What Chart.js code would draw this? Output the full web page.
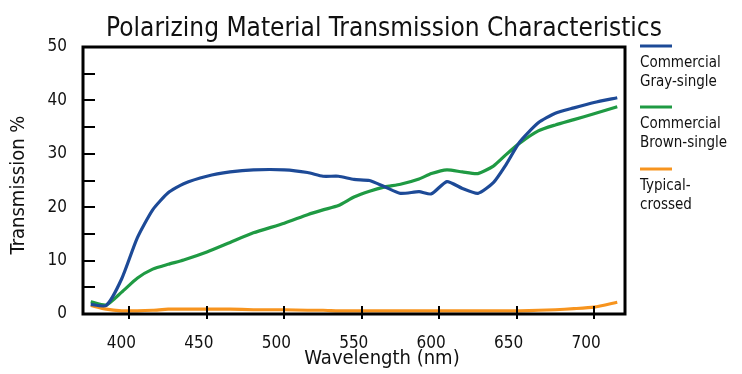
<!DOCTYPE html>
<html>
<head>
<meta charset="utf-8">
<script src="https://cdn.jsdelivr.net/npm/chart.js@4/dist/chart.umd.min.js"></script>
<style>
  html, body { margin: 0; padding: 0; background: #fff; }
  #wrap { width: 742px; height: 374px; }
</style>
</head>
<body>
<div id="wrap"><canvas id="chart"></canvas></div>
<script>
// data
const wavelengths = [375, 385, 395, 405, 415, 425, 435, 450, 465, 480, 500, 515, 525, 535, 545, 555, 565, 575, 587, 595, 605, 615, 625, 635, 643, 652, 664, 675, 687, 700, 715];
const grayT    = [1.8, 1.6, 6.6, 14.2, 19.5, 22.7, 24.4, 25.8, 26.6, 27.0, 27.0, 26.5, 25.8, 25.8, 25.2, 25.0, 23.8, 22.6, 22.9, 22.5, 24.8, 23.5, 22.6, 24.6, 27.9, 32.2, 35.8, 37.6, 38.6, 39.6, 40.5];
const brownT   = [2.3, 1.7, 4.1, 6.7, 8.4, 9.3, 10.1, 11.6, 13.4, 15.2, 17.0, 18.6, 19.5, 20.3, 21.9, 23.0, 23.8, 24.3, 25.3, 26.3, 27.0, 26.6, 26.3, 27.7, 29.8, 32.0, 34.3, 35.4, 36.4, 37.5, 38.8];
const crossedT = [1.6, 0.9, 0.6, 0.6, 0.7, 0.9, 0.9, 0.9, 0.9, 0.8, 0.8, 0.7, 0.7, 0.6, 0.6, 0.6, 0.6, 0.6, 0.6, 0.6, 0.6, 0.6, 0.6, 0.6, 0.6, 0.6, 0.7, 0.8, 1.0, 1.3, 2.2];

const seriesNames = [['Commercial', 'Gray-single'], ['Commercial', 'Brown-single'], ['Typical-', 'crossed']];
const seriesColors = ['#1d4a97', '#1f9a43', '#f7941e'];

const xTicks = [400, 450, 500, 550, 600, 650, 700];
const yTicks = [0, 10, 20, 30, 40, 50];
const yMinorTicks = [5, 15, 25, 35, 45];

const FONT = '"Liberation Sans Narrow", "DejaVu Sans Condensed", "Roboto Condensed", sans-serif';

function pts(vals) {
  return wavelengths.map((w, i) => ({ x: w, y: vals[i] }));
}

// title, frame, inner ticks, axis titles and legend
const decor = {
  id: 'decor',
  afterDraw(chart) {
    const c = chart.ctx;
    const a = chart.chartArea;
    const xs = chart.scales.x, ys = chart.scales.y;
    c.save();
    c.fillStyle = '#111';
    c.textBaseline = 'alphabetic';

    c.font = '26px ' + FONT;
    c.textAlign = 'center';
    c.fillText('Polarizing Material Transmission Characteristics', 384, 36);

    // frame
    c.strokeStyle = '#000';
    c.lineWidth = 3;
    c.strokeRect(a.left, a.top, a.right - a.left, a.bottom - a.top);

    // tick marks pointing inward
    c.lineWidth = 2;
    c.beginPath();
    xTicks.forEach(v => {
      const px = Math.round(xs.getPixelForValue(v));
      c.moveTo(px, a.bottom - 8);
      c.lineTo(px, a.bottom + 5);
    });
    yTicks.concat(yMinorTicks).forEach(v => {
      const py = Math.round(ys.getPixelForValue(v));
      c.moveTo(a.left, py);
      c.lineTo(a.left + 12, py);
    });
    c.stroke();

    // axis titles
    c.font = '20px ' + FONT;
    c.textAlign = 'center';
    c.fillText('Wavelength (nm)', 382, 364);
    c.save();
    c.translate(24, 185);
    c.rotate(-Math.PI / 2);
    c.fillText('Transmission %', 0, 0);
    c.restore();

    // legend
    const lineY = [46, 107, 169];
    c.font = '15px ' + FONT;
    c.textAlign = 'left';
    seriesNames.forEach((lines, i) => {
      c.strokeStyle = seriesColors[i];
      c.lineWidth = 3;
      c.beginPath();
      c.moveTo(640, lineY[i]);
      c.lineTo(672, lineY[i]);
      c.stroke();
      lines.forEach((t, j) => c.fillText(t, 640, lineY[i] + 21 + j * 19));
    });
    c.restore();
  }
};

new Chart(document.getElementById('chart'), {
  type: 'line',
  data: {
    datasets: [
      { label: seriesNames[0].join(' '), data: pts(grayT), borderColor: seriesColors[0] },
      { label: seriesNames[1].join(' '), data: pts(brownT), borderColor: seriesColors[1] },
      { label: seriesNames[2].join(' '), data: pts(crossedT), borderColor: seriesColors[2] }
    ]
  },
  options: {
    responsive: true,
    maintainAspectRatio: false,
    animation: false,
    layout: { padding: { top: 47, right: 117, left: 0, bottom: 0 } },
    elements: {
      line: { borderWidth: 3.2, tension: 0.2, fill: false },
      point: { radius: 0 }
    },
    plugins: { legend: { display: false }, tooltip: { enabled: false } },
    scales: {
      x: {
        type: 'linear',
        min: 370,
        max: 720,
        afterFit: s => { s.height = 60; },
        afterBuildTicks: s => { s.ticks = xTicks.map(v => ({ value: v })); },
        grid: { display: false },
        border: { display: false },
        ticks: { color: '#111', font: { family: FONT, size: 17 }, padding: 11, labelOffset: -8, maxRotation: 0 }
      },
      y: {
        min: 0,
        max: 50,
        afterFit: s => { s.width = 83; },
        afterBuildTicks: s => { s.ticks = yTicks.map(v => ({ value: v })); },
        grid: { display: false },
        border: { display: false },
        ticks: { color: '#111', font: { family: FONT, size: 17 }, padding: 8 }
      }
    }
  },
  plugins: [decor]
});
</script>
</body>
</html>
